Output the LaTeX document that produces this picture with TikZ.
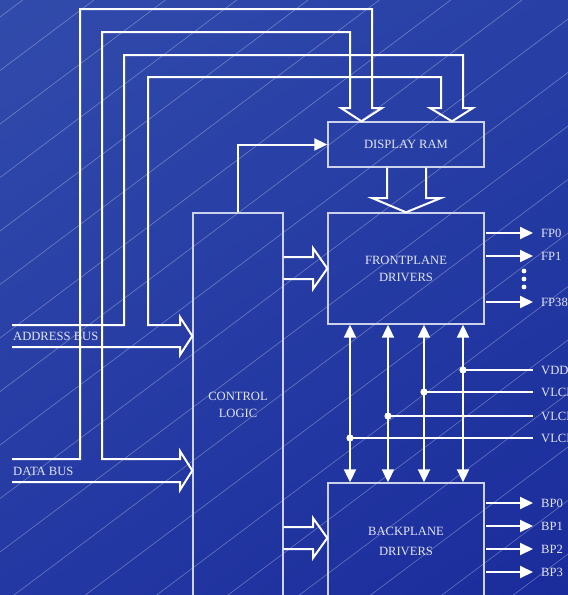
\documentclass[tikz,border=0pt]{standalone}
\usepackage{fontspec}
\setmainfont{Liberation Serif}
\usetikzlibrary{arrows.meta,calc,shadings}
\definecolor{bgUL}{RGB}{49,75,171}
\definecolor{bgUR}{RGB}{40,64,166}
\definecolor{bgLL}{RGB}{36,56,163}
\definecolor{bgLR}{RGB}{26,44,155}
\definecolor{boxcol}{RGB}{205,210,236}
\definecolor{txtcol}{RGB}{226,229,242}
\newcommand\dgfont{\fontsize{12.6pt}{17pt}\selectfont}
\begin{document}
\begin{tikzpicture}[x=1pt,y=-1pt,
  wire/.style={draw=white,line width=2pt},
  box/.style={draw=boxcol,line width=1.4pt,rectangle,inner sep=0pt,text=txtcol,font=\dgfont,align=center},
  lbl/.style={text=txtcol,font=\dgfont,inner sep=0pt,anchor=west},
  tipend/.style={-{Triangle[length=13pt,width=12pt]}},
  tipboth/.style={{Triangle[length=13pt,width=12pt]}-{Triangle[length=13pt,width=12pt]}},
  bgline/.style={draw=white,opacity=0.32,line width=0.6pt}]
\useasboundingbox (0,0) rectangle (568,595);
\clip (0,0) rectangle (568,595);
\shade[upper left=bgUL, upper right=bgUR, lower left=bgLL, lower right=bgLR] (0,0) rectangle (568,595);
\foreach \k in {0,...,19} {
  \pgfmathsetmacro\cc{17+53.5*\k}
  \draw[bgline] (0,\cc) -- ({\cc/0.75},0);
}
% boxes
\node[box,minimum width=156pt,minimum height=45pt] (ram) at (406,144.5) {DISPLAY RAM};
\node[box,minimum width=156pt,minimum height=111pt] (front) at (406,268.5) {FRONTPLANE\\DRIVERS};
\node[box,minimum width=156pt,minimum height=117pt] (back) at (406,541.5) {BACKPLANE\\[3pt]DRIVERS};
\node[box,minimum width=90pt,minimum height=383pt] (ctrl) at (238,404.5) {CONTROL\\LOGIC};
% bus labels
\node[lbl] (abus) at (13,336) {ADDRESS BUS};
\node[lbl] (dbus) at (13,471) {DATA BUS};
\coordinate (atip) at (ctrl.west |- 0,336);
\coordinate (dtip) at (ctrl.west |- 0,470.5);
% address bus
\draw[wire] (12,347) -- (180,347) -- (180,355) -- (atip) -- (180,317) -- (180,325) -- (148,325)
  -- (148,77) -- (441,77) -- (441,108) -- (430,108) -- (ram.north -| 452,0) -- (473,108) -- (463,108)
  -- (463,55) -- (124,55) -- (124,325) -- (12,325);
% data bus
\draw[wire] (12,482) -- (180,482) -- (180,490) -- (dtip) -- (180,451) -- (180,459) -- (102,459)
  -- (102,32) -- (350,32) -- (350,108) -- (341,108) -- (ram.north -| 361.5,0) -- (382,108) -- (372,108)
  -- (372,9) -- (80,9) -- (80,459) -- (12,459);
% display ram -> frontplane
\draw[wire] (ram.south -| 387,0) -- (387,198) -- (372,198) -- (front.north) -- (441,198) -- (426,198) -- (ram.south -| 426,0);
% control -> frontplane
\draw[wire] (ctrl.east |- 0,257) -- (313,257) -- (313,248) -- (front.west) -- (313,289) -- (313,279) -- (ctrl.east |- 0,279);
% control -> backplane
\draw[wire] (ctrl.east |- 0,527) -- (313,527) -- (313,518) -- (front.west |- 0,538) -- (313,558) -- (313,549) -- (ctrl.east |- 0,549);
% control -> display ram
\draw[wire,tipend] (ctrl.north) |- (ram.west);
% frontplane outputs
\node[lbl] (fp0) at (541,233) {FP0};
\node[lbl] (fp1) at (541,256) {FP1};
\node[lbl] (fp38) at (541,302) {FP38};
\foreach \n in {fp0,fp1,fp38}
  \draw[wire,tipend,shorten <=1.5pt,shorten >=8pt] (front.east |- \n) -- (\n.west);
\foreach \yy in {271,279,287}
  \fill[white] (524,\yy) circle (2.4pt);
% backplane outputs
\node[lbl] (bp0) at (541,503) {BP0};
\node[lbl] (bp1) at (541,526) {BP1};
\node[lbl] (bp2) at (541,549) {BP2};
\node[lbl] (bp3) at (541,572) {BP3};
\foreach \n in {bp0,bp1,bp2,bp3}
  \draw[wire,tipend,shorten <=1.5pt,shorten >=8pt] (back.east |- \n) -- (\n.west);
% supply lines
\node[lbl] (vdd) at (541,370) {VDD};
\node[lbl] (vl1) at (541,392) {VLCD1};
\node[lbl] (vl2) at (541,416) {VLCD2};
\node[lbl] (vl3) at (541,438) {VLCD3};
\coordinate (d1) at (463,370);
\coordinate (d2) at (424,392);
\coordinate (d3) at (388,416);
\coordinate (d4) at (350,438);
\foreach \d/\l in {d1/vdd,d2/vl1,d3/vl2,d4/vl3} {
  \draw[wire,tipboth] (front.south -| \d) -- (back.north -| \d);
  \draw[wire,shorten >=8pt] (\d) -- (\l.west);
  \fill[white] (\d) circle (3.6pt);
}
\end{tikzpicture}
\end{document}
